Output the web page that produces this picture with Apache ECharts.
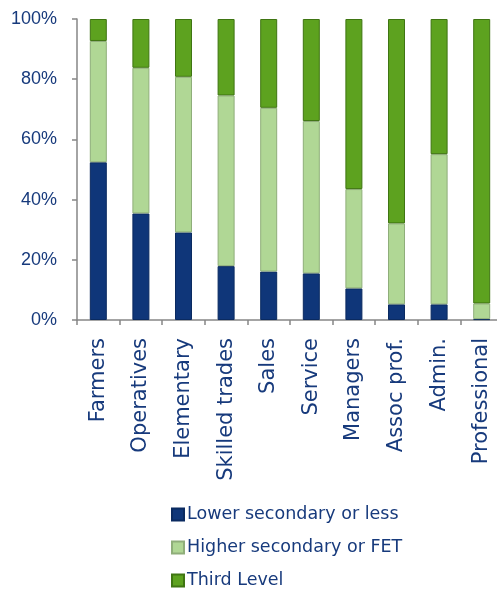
<!DOCTYPE html>
<html>
<head>
<meta charset="utf-8">
<script src="https://cdn.jsdelivr.net/npm/echarts@6/dist/echarts.min.js"></script>
<style>html,body{margin:0;padding:0;background:#fff;overflow:hidden}#c{width:506px;height:591px}</style>
</head>
<body>
<div id="c"></div>
<script>
var categories = ["Farmers","Operatives","Elementary","Skilled trades","Sales","Service","Managers","Assoc prof.","Admin.","Professional"];
var lowerSecondary = [52.4, 35.4, 29.1, 17.9, 16.1, 15.5, 10.5, 5.2, 5.2, 0.3];
var higherSecondary = [40.3, 48.4, 51.7, 56.7, 54.4, 50.6, 33.0, 26.9, 49.9, 5.2];
var thirdLevel = [7.3, 16.2, 19.2, 25.4, 29.5, 33.9, 56.5, 67.9, 44.9, 94.5];
var yTicks = [0, 20, 40, 60, 80, 100];
var seriesNames = ["Lower secondary or less","Higher secondary or FET","Third Level"];

var textColor = '#173a7c';
var chart = echarts.init(document.getElementById('c'));
function bar(name, data, color, border) {
  return {
    name: name, type: 'bar', stack: 'total', data: data, barWidth: 17,
    itemStyle: { color: color, borderColor: border, borderWidth: 1 }
  };
}
function legendFor(i, top) {
  return {
    orient: 'vertical', left: 171, top: top, padding: 0, itemWidth: 12, itemHeight: 12,
    icon: 'rect',
    textStyle: { color: textColor, fontFamily: 'DejaVu Sans', fontSize: 17.5, lineHeight: 21, padding: [0,0,0,-2] },
    data: [seriesNames[i]]
  };
}
chart.setOption({
  animation: false,
  grid: { left: 77, top: 19, bottom: 271, width: 426, containLabel: false },
  legend: [legendFor(0, 504), legendFor(1, 537), legendFor(2, 570)],
  xAxis: {
    type: 'category', data: categories,
    axisLine: { lineStyle: { color: '#868686', width: 1.5 } },
    axisTick: { show: true, length: 5, lineStyle: { color: '#868686', width: 1.5 } },
    axisLabel: { rotate: 90, margin: 18, color: textColor, fontFamily: 'DejaVu Sans', fontSize: 21, interval: 0 }
  },
  yAxis: {
    type: 'value', min: yTicks[0], max: yTicks[yTicks.length-1], interval: 20,
    splitLine: { show: false },
    axisLine: { show: true, lineStyle: { color: '#868686', width: 1.5 } },
    axisTick: { show: true, length: 5, lineStyle: { color: '#868686', width: 1.5 } },
    axisLabel: { formatter: '{value}%', margin: 20, color: textColor, fontFamily: 'Liberation Sans', fontSize: 18 }
  },
  series: [
    bar(seriesNames[0], lowerSecondary, '#0f3679', '#0a2a60'),
    bar(seriesNames[1], higherSecondary, '#b0d795', '#8fae7a'),
    bar(seriesNames[2], thirdLevel, '#5da21f', '#3f7512')
  ]
});
</script>
</body>
</html>
